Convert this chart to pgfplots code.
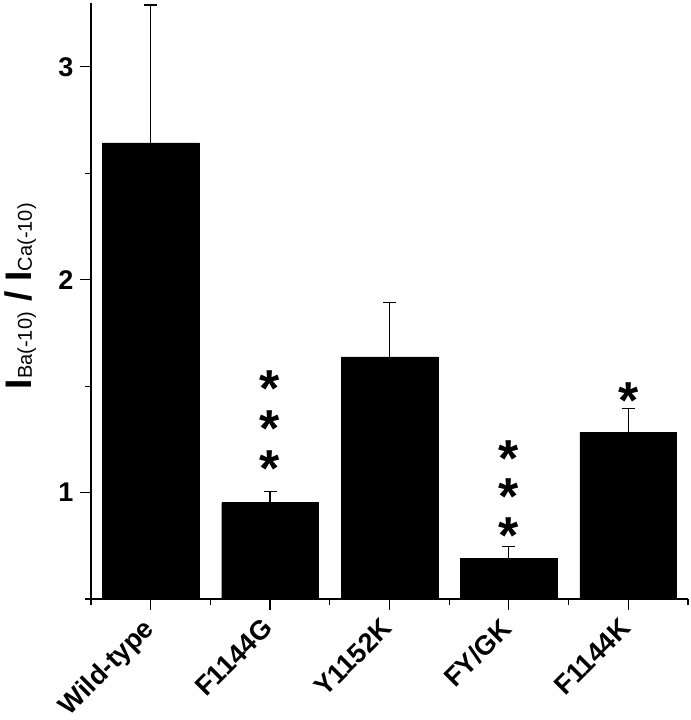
\documentclass[border=0pt]{standalone}
\usepackage{pgfplots}
\pgfplotsset{compat=1.18}
\usepackage{fontspec}
\setmainfont{Liberation Sans}
\newcommand{\starfont}{\fontsize{52}{52}\selectfont\bfseries}
\begin{document}
\begin{tikzpicture}
\begin{axis}[
  scale only axis,
  width=597pt, height=596pt,
  xmin=-0.5, xmax=4.5,
  ymin=0.5, ymax=3.3,
  axis x line*=bottom, axis y line*=left,
  axis line style={line width=1.2pt},
  every tick/.style={line width=1.2pt, black},
  tick align=outside,
  major tick length=11pt, minor tick length=6pt,
  xtick={0,1,2,3,4},
  xticklabels={Wild-type,F1144G,Y1152K,FY/GK,F1144K},
  minor xtick={-0.5,0.5,1.5,2.5,3.5,4.5},
  ytick={1,2,3},
  minor ytick={0.5,1.5,2.5},
  /pgf/number format/assume math mode=true,
  yticklabel style={font=\fontsize{27}{27}\selectfont\bfseries, xshift=-3pt},
  xticklabel style={font=\fontsize{27}{27}\selectfont\bfseries, rotate=45, anchor=north east, inner sep=2pt, xshift=-9pt, yshift=4pt},
  clip=false,
  ylabel={{\fontsize{37}{40}\selectfont\bfseries I}{\fontsize{20}{22}\selectfont Ba(-10)}{\fontsize{37}{40}\selectfont\bfseries\ /\ I}{\fontsize{20}{22}\selectfont Ca(-10)}},
  ylabel style={at={(axis description cs:-0.118,0.508)}, rotate=0, anchor=center},
]
\addplot[ybar, bar width=0.81, fill=black, draw=black,
  error bars/.cd, y dir=plus, y explicit,
  error bar style={line width=1.2pt, black},
  error mark options={rotate=90, mark size=6.5pt, line width=1.2pt, black}]
  coordinates {
  (0,2.643) +- (0,0.648)
  (1,0.953) +- (0,0.052)
  (2,1.638) +- (0,0.254)
  (3,0.690) +- (0,0.056)
  (4,1.282) +- (0,0.112)
};
\node[anchor=base, yshift=-27pt, inner sep=0pt] at (axis cs:1,1.531) {\starfont *};
\node[anchor=base, yshift=-27pt, inner sep=0pt] at (axis cs:1,1.343) {\starfont *};
\node[anchor=base, yshift=-27pt, inner sep=0pt] at (axis cs:1,1.155) {\starfont *};
\node[anchor=base, yshift=-27pt, inner sep=0pt] at (axis cs:3,1.202) {\starfont *};
\node[anchor=base, yshift=-27pt, inner sep=0pt] at (axis cs:3,1.022) {\starfont *};
\node[anchor=base, yshift=-27pt, inner sep=0pt] at (axis cs:3,0.842) {\starfont *};
\node[anchor=base, yshift=-27pt, inner sep=0pt] at (axis cs:4,1.476) {\starfont *};
\end{axis}
\pgfresetboundingbox
\path ([shift={(-91pt,-121pt)}]current axis.south west) rectangle ([shift={(3pt,3pt)}]current axis.north east);
\end{tikzpicture}
\end{document}
